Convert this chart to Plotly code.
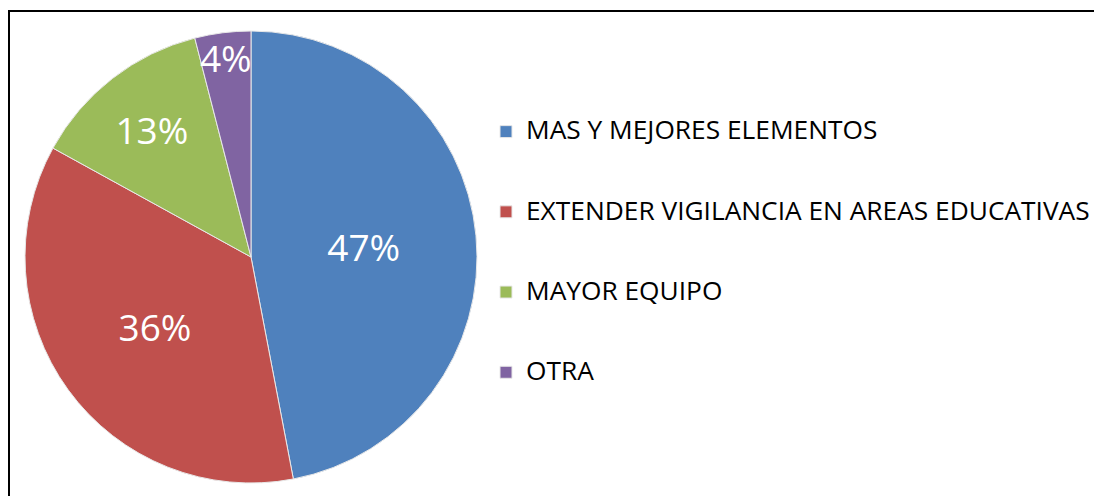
import plotly.graph_objects as go

categories = ["MAS Y MEJORES ELEMENTOS", "EXTENDER VIGILANCIA EN AREAS EDUCATIVAS", "MAYOR EQUIPO", "OTRA"]
values = [47, 36, 13, 4]
colors = ["#4F81BD", "#C0504D", "#9BBB59", "#8064A2"]

W, H = 1102, 496
# pie centre / radius in figure pixels (page has 8px body margin)
cx, cy, r = 243, 249, 226

legend_labels = [f" <br><span style='font-size:26.3px'>{c}</span><br> " for c in categories]

fig = go.Figure(go.Pie(
    labels=legend_labels,
    values=values,
    sort=False,
    direction="clockwise",
    rotation=0,
    marker=dict(colors=colors, line=dict(color="#E8E8E8", width=1)),
    textinfo="percent",
    texttemplate="%{percent:.0%}",
    textposition="inside",
    insidetextorientation="horizontal",
    textfont=dict(family="Open Sans", size=37, color="white"),
    domain=dict(x=[(cx - r) / W, (cx + r) / W], y=[(H - cy - r) / H, (H - cy + r) / H]),
    hoverinfo="percent",
))

fig.update_layout(
    width=W, height=H,
    margin=dict(l=0, r=0, t=0, b=0),
    paper_bgcolor="white",
    showlegend=True,
    uniformtext=dict(minsize=37, mode="show"),
    legend=dict(
        x=478 / W, xanchor="left",
        y=(H - 78.5) / H, yanchor="top",
        font=dict(family="Open Sans", size=19.8, color="black"),
        valign="middle",
        bgcolor="rgba(0,0,0,0)",
    ),
    shapes=[dict(type="rect", xref="paper", yref="paper",
                 x0=1 / W, x1=1.05, y0=-0.05, y1=1 - 3 / H,
                 line=dict(color="black", width=2), fillcolor="rgba(0,0,0,0)", layer="below")],
)

fig.write_html("out.html")
